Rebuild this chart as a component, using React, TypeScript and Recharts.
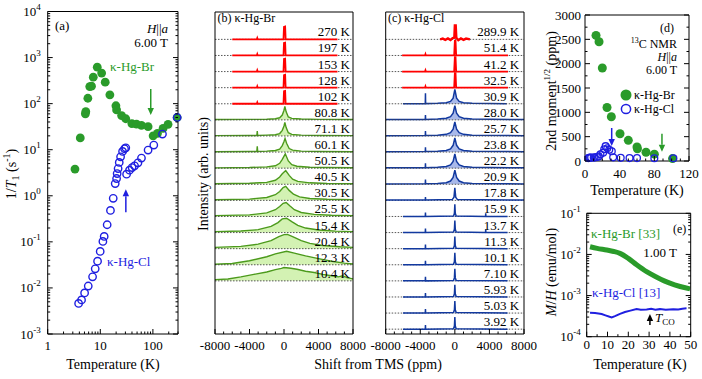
import React from "react"
import { ComposedChart, ScatterChart, Scatter, Line, Area, XAxis, YAxis } from "recharts"

const W = 702
const H = 379
const FONT = "'Liberation Serif', 'Times New Roman', serif"
const GREEN = "#2a9b2a"
const BLUE = "#1f1fe0"
const RED = "#ff0000"
const SPEC_GREEN = "#4c9a1c"
const SPEC_GREEN_FILL = "#d3f2b3"
const SPEC_BLUE = "#12399f"
const SPEC_BLUE_FILL = "#a9b9ea"
const AX = 10
const AXL = { stroke: "#000", strokeWidth: 1 }

// (a) 1/T1 vs temperature
const brT1Temp = [3.3, 4.16, 5.2, 5.3, 5.8, 6.3, 6.8, 7.35, 8.75, 10.6, 12.4, 15.2, 19.8, 20.4, 25.4, 30.5, 39.8, 48.8, 60.6, 81, 101, 122, 156, 194, 289]
const brT1Rate = [3.8, 18, 60, 67, 131, 235, 240, 376, 620, 460, 292, 155, 90, 73, 55, 47, 37, 36, 33.8, 31.6, 20, 22.6, 29, 35.6, 50]
const clT1Temp = [3.87, 4.4, 5.03, 5.9, 7.13, 8.0, 8.87, 9.95, 11.2, 11.85, 13.5, 15.6, 17.6, 19.2, 20.4, 20.9, 21.8, 22.9, 24.3, 26.5, 28.9, 30.5, 31.6, 35.9, 40.2, 44.8, 52, 60.6, 81, 104, 152, 289]
const clT1Rate = [0.0046, 0.0055, 0.0078, 0.011, 0.0174, 0.026, 0.038, 0.062, 0.102, 0.131, 0.235, 0.48, 0.88, 1.84, 2.37, 3.04, 3.9, 5.3, 7.0, 9.2, 10.5, 11, 2.94, 3.6, 4.1, 4.46, 5.2, 6.6, 9.8, 12.6, 21.9, 50]
const aXTicks = [1, 2, 3, 4, 5, 6, 7, 8, 9, 10, 20, 30, 40, 50, 60, 70, 80, 90, 100, 200, 300]
const aArrows = [
  { t: 91, v: 56.7, color: GREEN, dir: "down", len: 26 },
  { t: 30.6, v: 1.39, color: BLUE, dir: "up", len: 23 },
]

// (b) and (c) spectra, shift (ppm) vs intensity (row units)
type Pt = [number, number]
const redSpikeB: Pt[] = [[-6000, 0], [-3150, 0], [-3100, 0.08], [-3050, 0], [-60, 0], [0, 0.78], [130, 0.8], [190, 0], [6200, 0]]
const g808: Pt[] = [[-8000, 0.02], [-4000, 0.03], [-2000, 0.04], [-1000, 0.07], [-500, 0.13], [-200, 0.3], [0, 0.6], [100, 0.83], [250, 0.5], [500, 0.18], [900, 0.09], [2000, 0.05], [4000, 0.03], [8000, 0.02]]
const g711: Pt[] = [[-8000, 0.02], [-4000, 0.03], [-3150, 0.03], [-3100, 0.3], [-3050, 0.03], [-2000, 0.05], [-1000, 0.08], [-500, 0.15], [-200, 0.35], [0, 0.62], [100, 0.84], [250, 0.52], [500, 0.2], [900, 0.1], [2000, 0.05], [4000, 0.03], [8000, 0.02]]
const g601: Pt[] = [[-8000, 0.02], [-4000, 0.04], [-3150, 0.04], [-3100, 0.36], [-3050, 0.04], [-2000, 0.06], [-1000, 0.1], [-500, 0.18], [-200, 0.4], [0, 0.66], [120, 0.85], [300, 0.55], [600, 0.22], [1000, 0.12], [2000, 0.06], [4000, 0.04], [8000, 0.02]]
const g505: Pt[] = [[-8000, 0.02], [-4000, 0.04], [-2000, 0.08], [-1000, 0.15], [-500, 0.3], [-200, 0.55], [150, 0.89], [500, 0.45], [900, 0.22], [1500, 0.12], [3000, 0.06], [5000, 0.04], [8000, 0.03]]
const g405: Pt[] = [[-8000, 0.03], [-4000, 0.06], [-2000, 0.12], [-1000, 0.25], [-500, 0.45], [-200, 0.65], [200, 0.85], [600, 0.55], [1000, 0.32], [1600, 0.18], [3000, 0.09], [5000, 0.05], [8000, 0.03]]
const g305: Pt[] = [[-8000, 0.04], [-4000, 0.08], [-2000, 0.18], [-1000, 0.35], [-500, 0.55], [-100, 0.8], [200, 0.87], [600, 0.62], [1100, 0.38], [1800, 0.22], [3000, 0.12], [5000, 0.07], [8000, 0.04]]
const g255: Pt[] = [[-8000, 0.05], [-4000, 0.1], [-2000, 0.22], [-1000, 0.42], [-500, 0.62], [-100, 0.82], [250, 0.87], [700, 0.65], [1200, 0.42], [2000, 0.25], [3500, 0.13], [5500, 0.08], [8000, 0.05]]
const g154: Pt[] = [[-8000, 0.06], [-5000, 0.1], [-3000, 0.18], [-1500, 0.38], [-700, 0.62], [-200, 0.85], [300, 0.89], [900, 0.68], [1600, 0.45], [2500, 0.28], [4000, 0.16], [6000, 0.09], [8000, 0.06]]
const g204: Pt[] = [[-8000, 0.08], [-5000, 0.14], [-3000, 0.28], [-1500, 0.5], [-600, 0.75], [0, 0.87], [400, 0.89], [1000, 0.75], [2000, 0.5], [3000, 0.33], [4500, 0.2], [6500, 0.12], [8000, 0.08]]
const g123: Pt[] = [[-8000, 0.03], [-6000, 0.08], [-4000, 0.25], [-2000, 0.5], [-1000, 0.68], [300, 0.84], [1200, 0.72], [2500, 0.55], [4000, 0.38], [5500, 0.22], [7000, 0.1], [8000, 0.05]]
const g104: Pt[] = [[-8000, 0.08], [-6500, 0.12], [-5000, 0.25], [-3500, 0.4], [-2000, 0.55], [-1000, 0.7], [-300, 0.78], [0, 0.83], [800, 0.78], [1500, 0.72], [2500, 0.6], [3500, 0.52], [4500, 0.4], [5500, 0.32], [6300, 0.25], [6800, 0.32], [7300, 0.2], [8000, 0.12]]
const bLabels = ["270 K", "197 K", "153 K", "128 K", "102 K", "80.8 K", "71.1 K", "60.1 K", "50.5 K", "40.5 K", "30.5 K", "25.5 K", "15.4 K", "20.4 K", "12.3 K", "10.4 K"]
const bShapes = [redSpikeB, redSpikeB, redSpikeB, redSpikeB, redSpikeB, g808, g711, g601, g505, g405, g305, g255, g154, g204, g123, g104]

const red2899: Pt[] = [[-1700, 0], [-1400, 0.05], [-1100, -0.03], [-800, 0.06], [-500, -0.04], [-250, 0.08], [-60, 0.1], [0, 0.87], [100, 0.87], [170, 0.1], [400, -0.05], [700, 0.06], [1000, -0.03], [1300, 0.05], [1750, 0]]
const redSpikeC: Pt[] = [[-6100, 0], [-3450, 0], [-3400, 0.08], [-3350, 0], [-80, 0], [0, 0.9], [80, 0.9], [150, 0], [6150, 0]]
const blue309: Pt[] = [[-6000, 0], [-3420, 0.01], [-3400, 0.65], [-3380, 0.01], [-2000, 0.03], [-1000, 0.07], [-500, 0.15], [-200, 0.35], [0, 0.9], [200, 0.35], [500, 0.15], [1000, 0.07], [2000, 0.03], [6000, 0]]
const blueMid: Pt[] = [[-8000, 0.02], [-3420, 0.03], [-3400, 0.3], [-3380, 0.03], [-2000, 0.05], [-1000, 0.1], [-500, 0.2], [-200, 0.42], [0, 0.88], [200, 0.42], [500, 0.2], [1000, 0.1], [2000, 0.05], [8000, 0.02]]
const blue178: Pt[] = [[-8000, 0.02], [-3420, 0.02], [-3400, 0.2], [-3380, 0.02], [-300, 0.05], [-100, 0.2], [0, 0.78], [100, 0.2], [300, 0.05], [8000, 0.02]]
const blueBlip: Pt[] = [[-6000, 0], [-3420, 0], [-3400, 0.25], [-3380, 0], [-150, 0.03], [-50, 0.2], [0, 0.75], [50, 0.2], [150, 0.03], [3550, 0], [3570, 0.2], [3590, 0], [6100, 0]]
const blueNarrow: Pt[] = [[-6000, 0], [-3420, 0], [-3400, 0.25], [-3380, 0], [-150, 0.03], [-50, 0.2], [0, 0.75], [50, 0.2], [150, 0.03], [6100, 0]]
const cLabels = ["289.9 K", "51.4 K", "41.2 K", "32.5 K", "30.9 K", "28.0 K", "25.7 K", "23.8 K", "22.2 K", "20.9 K", "17.8 K", "15.9 K", "13.7 K", "11.3 K", "10.1 K", "7.10 K", "5.93 K", "5.03 K", "3.92 K"]
const cShapes = [red2899, redSpikeC, redSpikeC, redSpikeC, blue309, blueMid, blueMid, blueMid, blueMid, blueMid, blue178, blueBlip, blueBlip, blueNarrow, blueNarrow, blueNarrow, blueNarrow, blueNarrow, blueNarrow]
const shiftTicks = [-8000, -7000, -6000, -5000, -4000, -3000, -2000, -1000, 0, 1000, 2000, 3000, 4000, 5000, 6000, 7000, 8000]

// (d) second moment
const brMomTemp = [12.7, 16.2, 20, 25.4, 30.4, 40.4, 50, 60, 60.5, 70.4, 80, 101]
const brMomVal = [2580, 2450, 1910, 1100, 910, 560, 425, 290, 250, 180, 140, 50]
const clMomTemp = [3.9, 5, 5.9, 7.1, 10.1, 11.3, 13.7, 15.9, 17.8, 20.9, 22.2, 23.8, 25.7, 28, 30.9, 32.5, 41.2, 51.4, 60, 80, 102]
const clMomVal = [60, 65, 70, 70, 70, 75, 80, 95, 140, 170, 240, 305, 260, 230, 200, 75, 65, 60, 60, 55, 55]
const dXTicks = [0, 10, 20, 30, 40, 50, 60, 70, 80, 90, 100, 110, 120]
const dYTicks = [0, 250, 500, 750, 1000, 1250, 1500, 1750, 2000, 2250, 2500, 2750, 3000]
const dArrows = [
  { t: 30.8, v: 308, color: BLUE, dir: "down", len: 18 },
  { t: 88.8, v: 191, color: GREEN, dir: "down", len: 18 },
]

// (e) M/H
const brMHTemp = [1.6, 5, 9.6, 13, 16, 20, 24, 28.8, 33.7, 40, 44.9, 49.7]
const brMHVal = [0.0154, 0.014, 0.0128, 0.0118, 0.0106, 0.008, 0.0056, 0.0038, 0.0028, 0.002, 0.00166, 0.00145]
const clMHTemp = [1.6, 4, 7.2, 9, 11, 12, 13.6, 16, 18.4, 21, 24, 26, 28.8, 31, 33, 35.2, 38, 41.6, 44, 46, 48]
const clMHVal = [3.8e-4, 3.75e-4, 3.55e-4, 3.3e-4, 3.05e-4, 2.95e-4, 3.16e-4, 3.6e-4, 3.98e-4, 4.3e-4, 4.68e-4, 4.55e-4, 4.6e-4, 4.75e-4, 4.55e-4, 4.68e-4, 4.5e-4, 4.68e-4, 4.6e-4, 4.8e-4, 4.9e-4]
const eXTicks = [0, 5, 10, 15, 20, 25, 30, 35, 40, 45, 50]
const eArrows = [{ t: 30.4, v: 3.55e-4, color: "#000", dir: "up", len: 11 }]

type Box = { l: number; t: number; r: number; b: number }
const marginOf = (b: Box) => ({ left: b.l - AX, top: b.t - AX, right: W - b.r - AX, bottom: H - b.b - AX })

const logTicks = (lo: number, hi: number) => {
  const out: number[] = []
  for (let e = lo; e <= hi; e++) {
    for (let m = 1; m <= 9; m++) {
      if (e === hi && m > 1) break
      out.push(m * Math.pow(10, e))
    }
  }
  return out
}
const isDecade = (v: number) => Math.abs(Math.log10(v) - Math.round(Math.log10(v))) < 1e-6
const pow10 = (v: number) => (
  <>
    10<tspan dy={-6} fontSize={9}>{Math.round(Math.log10(v))}</tspan>
  </>
)

type TickCfg = {
  side: "bottom" | "top" | "left" | "right"
  major: (v: number) => boolean
  label?: (v: number) => React.ReactNode
  long?: number
  short?: number
  off?: number
  size?: number
}

const tickOf = (c: TickCfg) => (p: any) => {
  const { x, y } = p
  const v = p.payload.value
  const mj = c.major(v)
  const len = mj ? c.long ?? 5 : c.short ?? 2.5
  const dx = c.side === "left" ? len : c.side === "right" ? -len : 0
  const dy = c.side === "bottom" ? -len : c.side === "top" ? len : 0
  const size = c.size ?? 13
  const off = c.off ?? 5
  let lab: React.ReactNode = null
  if (mj && c.label) {
    if (c.side === "bottom")
      lab = (
        <text x={x} y={y + off} textAnchor="middle" fontSize={size} fontFamily={FONT} fill="#000">
          {c.label(v)}
        </text>
      )
    else if (c.side === "left")
      lab = (
        <text x={x - off} y={y + size * 0.35} textAnchor="end" fontSize={size} fontFamily={FONT} fill="#000">
          {c.label(v)}
        </text>
      )
  }
  return (
    <g>
      <line x1={x} y1={y} x2={x + dx} y2={y + dy} stroke="#000" strokeWidth={1} />
      {lab}
    </g>
  )
}

const axisBase = { tickSize: 0, tickMargin: 0, tickLine: false, axisLine: AXL, interval: 0 as const, allowDataOverflow: true }

const filledDot = (color: string, r: number) => (p: any) => <circle cx={p.cx} cy={p.cy} r={r} fill={color} />
const openDot = (color: string, r: number, sw: number) => (p: any) => (
  <circle cx={p.cx} cy={p.cy} r={r} fill="none" stroke={color} strokeWidth={sw} />
)
const arrowShape = (p: any) => {
  const { cx, cy, payload } = p
  const down = payload.dir === "down"
  const tail = down ? cy - payload.len : cy + payload.len
  const hb = down ? cy - 7 : cy + 7
  return (
    <g>
      <line x1={cx} y1={tail} x2={cx} y2={hb} stroke={payload.color} strokeWidth={1.5} />
      <polygon points={`${cx - 3.2},${hb} ${cx + 3.2},${hb} ${cx},${cy}`} fill={payload.color} />
    </g>
  )
}

function PanelA() {
  const box = { l: 47.7, t: 11.5, r: 178, b: 334 }
  const xd: [number, number] = [1, 300]
  const yd: [number, number] = [1e-3, 1e4]
  const yT = logTicks(-3, 4)
  const br = brT1Temp.map((t, i) => ({ t, v: brT1Rate[i] }))
  const cl = clT1Temp.map((t, i) => ({ t, v: clT1Rate[i] }))
  return (
    <ScatterChart width={W} height={H} margin={marginOf(box)}>
      <XAxis {...axisBase} allowDataOverflow={false} type="number" dataKey="t" scale="log" domain={xd} ticks={aXTicks} height={AX}
        tick={tickOf({ side: "bottom", major: isDecade, label: (v) => String(v), off: 15.5 })} />
      <XAxis {...axisBase} xAxisId="top" orientation="top" type="number" scale="log" domain={xd} ticks={aXTicks} height={AX}
        tick={tickOf({ side: "top", major: isDecade })} />
      <YAxis {...axisBase} allowDataOverflow={false} type="number" dataKey="v" scale="log" domain={yd} ticks={yT} width={AX}
        tick={tickOf({ side: "left", major: isDecade, label: pow10, off: 7 })} />
      <YAxis {...axisBase} yAxisId="right" orientation="right" type="number" scale="log" domain={yd} ticks={yT} width={AX}
        tick={tickOf({ side: "right", major: isDecade })} />
      <Scatter data={br} shape={filledDot(GREEN, 4.4)} isAnimationActive={false} />
      <Scatter data={cl} shape={openDot(BLUE, 3.7, 1.4)} isAnimationActive={false} />
      <Scatter data={aArrows} shape={arrowShape} isAnimationActive={false} />
    </ScatterChart>
  )
}

function SpectraPanel({ box, labels, shapes, labelX, kind }: { box: Box; labels: string[]; shapes: Pt[][]; labelX: number; kind: "b" | "c" }) {
  const rows = labels.map((label, i) => {
    const base = 18.3 - i
    const shape = shapes[i]
    let color = RED
    let fill: string | null = null
    let sw = 1.8
    if (kind === "b" && i >= 5) {
      color = SPEC_GREEN
      fill = SPEC_GREEN_FILL
      sw = 1.4
    }
    if (kind === "c" && i >= 4) {
      color = SPEC_BLUE
      fill = i <= 9 ? SPEC_BLUE_FILL : null
      sw = 1.5
    }
    if (kind === "c" && i === 0) sw = 2.4
    return { label, base, color, fill, sw, pts: shape.map(([x, v]) => ({ x, y: base + v })) }
  })
  const labelPts = rows.map((r) => ({ x: labelX, y: r.base + 0.19, label: r.label }))
  const labelShape = (p: any) => (
    <text x={p.cx} y={p.cy} textAnchor="end" fontSize={13} fontFamily={FONT} fill="#000">
      {p.payload.label}
    </text>
  )
  const xd: [number, number] = [-8000, 8000]
  const yd: [number, number] = [0, 20]
  return (
    <ComposedChart width={W} height={H} margin={marginOf(box)}>
      <XAxis {...axisBase} type="number" dataKey="x" domain={xd} ticks={shiftTicks} height={AX}
        tick={tickOf({ side: "bottom", major: (v) => v % 4000 === 0, label: (v) => String(v), off: 15.5 })} />
      <XAxis {...axisBase} xAxisId="top" orientation="top" type="number" domain={xd} tick={false} height={AX} />
      <YAxis {...axisBase} type="number" dataKey="y" domain={yd} tick={false} width={AX} />
      <YAxis {...axisBase} yAxisId="right" orientation="right" type="number" domain={yd} tick={false} width={AX} />
      {rows.map((r, i) => (
        <Line key={"base" + i} data={[{ x: -8000, y: r.base }, { x: 8000, y: r.base }]} dataKey="y" type="linear"
          stroke="#444" strokeWidth={0.9} strokeDasharray="1.5 1.5" dot={false} activeDot={false} isAnimationActive={false} />
      ))}
      {rows.map((r, i) =>
        r.fill ? (
          <Area key={"s" + i} data={r.pts} dataKey="y" type="linear" baseValue={r.base} stroke={r.color} strokeWidth={r.sw}
            fill={r.fill} fillOpacity={1} dot={false} activeDot={false} isAnimationActive={false} />
        ) : (
          <Line key={"s" + i} data={r.pts} dataKey="y" type="linear" stroke={r.color} strokeWidth={r.sw}
            dot={false} activeDot={false} isAnimationActive={false} />
        )
      )}
      <Scatter data={labelPts} shape={labelShape} isAnimationActive={false} />
    </ComposedChart>
  )
}

function PanelD() {
  const box = { l: 585, t: 15, r: 689, b: 161 }
  const xd: [number, number] = [0, 120]
  const yd: [number, number] = [0, 3000]
  const br = brMomTemp.map((t, i) => ({ t, v: brMomVal[i] }))
  const cl = clMomTemp.map((t, i) => ({ t, v: clMomVal[i] }))
  return (
    <ScatterChart width={W} height={H} margin={marginOf(box)}>
      <XAxis {...axisBase} allowDataOverflow={false} type="number" dataKey="t" domain={xd} ticks={dXTicks} height={AX}
        tick={tickOf({ side: "bottom", major: (v) => v % 40 === 0, label: (v) => String(v), off: 17 })} />
      <XAxis {...axisBase} xAxisId="top" orientation="top" type="number" domain={xd} ticks={dXTicks} height={AX}
        tick={tickOf({ side: "top", major: (v) => v % 40 === 0 })} />
      <YAxis {...axisBase} allowDataOverflow={false} type="number" dataKey="v" domain={yd} ticks={dYTicks} width={AX}
        tick={tickOf({ side: "left", major: (v) => v % 500 === 0, label: (v) => String(v), off: 4 })} />
      <YAxis {...axisBase} yAxisId="right" orientation="right" type="number" domain={yd} ticks={dYTicks} width={AX}
        tick={tickOf({ side: "right", major: (v) => v % 500 === 0 })} />
      <Scatter data={br} shape={filledDot(GREEN, 4.5)} isAnimationActive={false} />
      <Scatter data={cl} shape={openDot(BLUE, 3.4, 1.3)} isAnimationActive={false} />
      <Scatter data={dArrows} shape={arrowShape} isAnimationActive={false} />
    </ScatterChart>
  )
}

function PanelE() {
  const box = { l: 586.7, t: 213.3, r: 690.7, b: 336.7 }
  const xd: [number, number] = [0, 50]
  const yd: [number, number] = [1e-4, 1e-1]
  const yT = logTicks(-4, -1)
  const br = brMHTemp.map((t, i) => ({ t, v: brMHVal[i] }))
  const cl = clMHTemp.map((t, i) => ({ t, v: clMHVal[i] }))
  return (
    <ComposedChart width={W} height={H} margin={marginOf(box)}>
      <XAxis {...axisBase} type="number" dataKey="t" domain={xd} ticks={eXTicks} height={AX}
        tick={tickOf({ side: "bottom", major: (v) => v % 10 === 0, label: (v) => String(v), off: 12.5 })} />
      <XAxis {...axisBase} xAxisId="top" orientation="top" type="number" domain={xd} ticks={eXTicks} height={AX}
        tick={tickOf({ side: "top", major: (v) => v % 10 === 0 })} />
      <YAxis {...axisBase} type="number" dataKey="v" scale="log" domain={yd} ticks={yT} width={AX}
        tick={tickOf({ side: "left", major: isDecade, label: pow10, off: 6 })} />
      <YAxis {...axisBase} yAxisId="right" orientation="right" type="number" scale="log" domain={yd} ticks={yT} width={AX}
        tick={tickOf({ side: "right", major: isDecade })} />
      <Line data={br} dataKey="v" type="monotone" stroke={GREEN} strokeWidth={5} dot={false} activeDot={false} isAnimationActive={false} />
      <Line data={cl} dataKey="v" type="linear" stroke={BLUE} strokeWidth={2} dot={false} activeDot={false} isAnimationActive={false} />
      <Scatter data={eArrows} shape={arrowShape} isAnimationActive={false} />
    </ComposedChart>
  )
}

function Overlay() {
  const t = { fontFamily: FONT, fill: "#000" }
  return (
    <svg width={W} height={H} style={{ position: "absolute", left: 0, top: 0, pointerEvents: "none" }}>
      {/* axis titles */}
      <text {...t} fontSize={14} textAnchor="middle" transform="translate(16,174) rotate(-90)">
        1/<tspan fontStyle="italic">T</tspan>
        <tspan fontSize={10} dy={3}>1</tspan>
        <tspan dy={-3}> (s</tspan>
        <tspan fontSize={10} dy={-6}>-1</tspan>
        <tspan dy={6}>)</tspan>
      </text>
      <text {...t} fontSize={14} textAnchor="middle" x={113} y={369}>Temperature (K)</text>
      <text {...t} fontSize={14} textAnchor="middle" transform="translate(208,174) rotate(-90)">Intensity (arb. units)</text>
      <text {...t} fontSize={14} textAnchor="middle" x={378} y={369}>Shift from TMS (ppm)</text>
      <text {...t} fontSize={14} textAnchor="middle" transform="translate(556,91) rotate(-90)">
        2nd moment<tspan fontSize={9} dy={-6}>1/2</tspan>
        <tspan dy={6}> (ppm)</tspan>
      </text>
      <text {...t} fontSize={14} textAnchor="middle" x={637} y={195}>Temperature (K)</text>
      <text {...t} fontSize={14} textAnchor="middle" transform="translate(556,272) rotate(-90)">
        <tspan fontStyle="italic">M</tspan>/<tspan fontStyle="italic">H</tspan> (emu/mol)
      </text>
      <text {...t} fontSize={14} textAnchor="middle" x={640} y={369}>Temperature (K)</text>

      {/* panel (a) */}
      <text {...t} fontSize={13} x={55} y={30}>(a)</text>
      <text {...t} fontSize={13} x={168} y={33} textAnchor="end">
        <tspan fontStyle="italic">H</tspan>||<tspan fontStyle="italic">a</tspan>
      </text>
      <text {...t} fontSize={13} x={168} y={47} textAnchor="end">6.00 T</text>
      <text fontFamily={FONT} fill={GREEN} fontSize={13} x={110} y={70.5}>κ-Hg-Br</text>
      <text fontFamily={FONT} fill={BLUE} fontSize={13} x={107} y={266}>κ-Hg-Cl</text>

      {/* panel (b), (c) */}
      <text {...t} fontSize={12} x={217.5} y={22}>(b) κ-Hg-Br</text>
      <text {...t} fontSize={12} x={388} y={22}>(c) κ-Hg-Cl</text>

      {/* panel (d) */}
      <text {...t} fontSize={12} x={674} y={31.5} textAnchor="end">(d)</text>
      <text {...t} fontSize={12} x={677} y={48} textAnchor="end">
        <tspan fontSize={8} dy={-5}>13</tspan>
        <tspan dy={5}>C NMR</tspan>
      </text>
      <text {...t} fontSize={12} x={677} y={61} textAnchor="end">
        <tspan fontStyle="italic">H</tspan>||<tspan fontStyle="italic">a</tspan>
      </text>
      <text {...t} fontSize={12} x={677} y={74} textAnchor="end">6.00 T</text>
      <circle cx={626} cy={95} r={5.5} fill={GREEN} />
      <text {...t} fontSize={12} x={634} y={99}>κ-Hg-Br</text>
      <circle cx={626} cy={109} r={4.6} fill="none" stroke={BLUE} strokeWidth={1.5} />
      <text {...t} fontSize={12} x={634} y={113}>κ-Hg-Cl</text>

      {/* panel (e) */}
      <text fontFamily={FONT} fill={GREEN} fontSize={13} x={591} y={238}>κ-Hg-Br [33]</text>
      <text {...t} fontSize={12} x={673} y={233}>(e)</text>
      <text {...t} fontSize={13} x={677} y={256.5} textAnchor="end">1.00 T</text>
      <text fontFamily={FONT} fill={BLUE} fontSize={13} x={592} y={297}>κ-Hg-Cl [13]</text>
      <text {...t} fontSize={13} x={655} y={322}>
        <tspan fontStyle="italic">T</tspan>
        <tspan fontSize={9} dy={3}>CO</tspan>
      </text>
    </svg>
  )
}

const layer: React.CSSProperties = { position: "absolute", left: 0, top: 0 }

export default function App() {
  return (
    <div style={{ position: "absolute", left: 0, top: 0, width: W, height: H, background: "#fff", overflow: "hidden", fontFamily: FONT }}>
      <div style={layer}><PanelA /></div>
      <div style={layer}>
        <SpectraPanel box={{ l: 215, t: 12, r: 353, b: 334 }} labels={bLabels} shapes={bShapes} labelX={7650} kind="b" />
      </div>
      <div style={layer}>
        <SpectraPanel box={{ l: 385.7, t: 12, r: 524, b: 334 }} labels={cLabels} shapes={cShapes} labelX={7450} kind="c" />
      </div>
      <div style={layer}><PanelD /></div>
      <div style={layer}><PanelE /></div>
      <Overlay />
    </div>
  )
}
